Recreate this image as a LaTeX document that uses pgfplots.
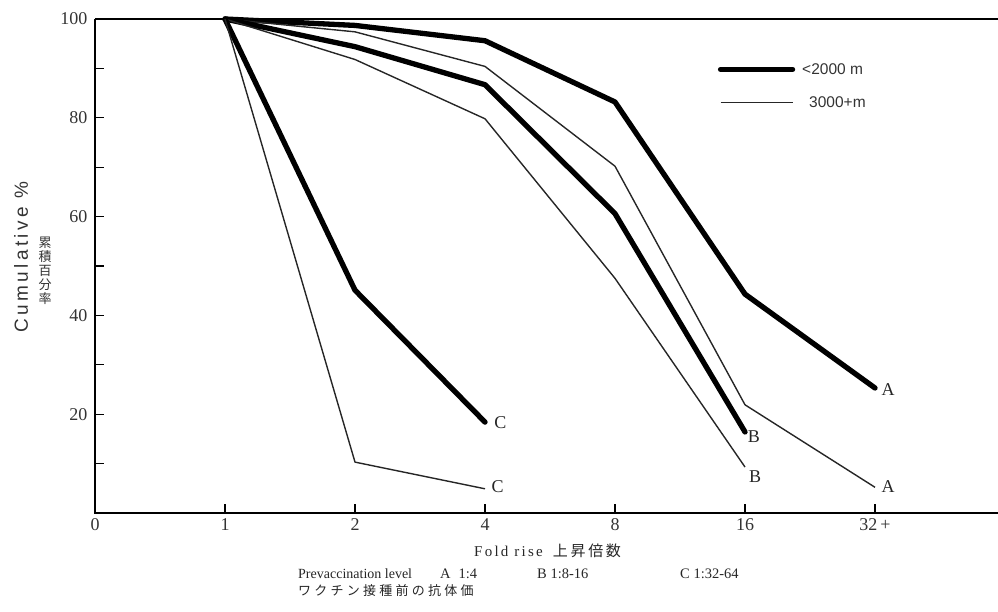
\documentclass[border=0pt]{standalone}
\usepackage{fontspec}
\setmainfont{Liberation Serif}
\newfontfamily\sansf{Liberation Sans}
\newfontfamily\jp{Noto Sans CJK JP}
\usepackage{pgfplots}
\pgfplotsset{compat=1.18}
\begin{document}
\begin{tikzpicture}
\path[use as bounding box] (0pt,0pt) rectangle (998pt,611pt);
\begin{axis}[
  at={(95pt,98pt)}, anchor=south west,
  scale only axis, width=903pt, height=494pt,
  xmin=0, xmax=6.946, ymin=0, ymax=100,
  clip=false,
  axis line style={draw=none},
  xtick pos=bottom, ytick pos=left,
  xtick={0,1,2,3,4,5,6},
  xticklabels={0,1,2,4,8,16,32\,+},
  ytick={20,40,60,80,100},
  minor ytick={10,30,50,70,90},
  tick align=inside,
  major tick length=9pt, minor tick length=9pt,
  tick style={black, line width=1.3pt},
  /pgf/number format/assume math mode=true,
  tick label style={font=\fontsize{18}{18}\selectfont, text=black!80},
  xticklabel style={yshift=-2pt},
  yticklabel style={xshift=-4pt},
  legend style={at={(axis cs:4.79,91.5)}, anchor=north west, draw=none, fill=none,
    font=\sansf\fontsize{15.5}{15.5}\selectfont, row sep=17pt, inner sep=0pt,
    text=black!80},
  legend cell align=left,
  legend image code/.code={\draw[#1] (0pt,0pt) -- (72pt,0pt);},
  thick line/.style={black, line width=5.3pt, line join=round, line cap=round},
  thin line/.style={black!85, line width=1.4pt, line join=round},
]
\draw[black, line width=1.6pt] (rel axis cs:0,1) -- (rel axis cs:0,0) -- (rel axis cs:1,0);
\draw[black, line width=1.6pt] (rel axis cs:0,1) -- (rel axis cs:1,1);

% A: prevaccination 1:4
\addplot[thick line] coordinates {(1,100)(2,98.7)(3,95.6)(4,83.2)(5,44.3)(6,25.3)};
\addlegendentry{\hspace{5pt}<2000 m}
\addplot[thin line] coordinates {(1,100)(2,97.4)(3,90.4)(4,70.2)(5,21.9)(6,5.2)};
\addlegendentry{\hspace{12pt}3000+m}
% B: 1:8-16
\addplot[thick line, forget plot] coordinates {(1,100)(2,94.4)(3,86.7)(4,60.6)(5,16.4)};
\addplot[thin line, forget plot] coordinates {(1,100)(2,91.8)(3,79.8)(4,47.5)(5,9.3)};
% C: 1:32-64
\addplot[thick line, forget plot] coordinates {(1,100)(2,45.1)(3,18.4)};
\addplot[thin line, forget plot] coordinates {(1,100)(2,10.3)(3,4.9)};

\begin{scope}[every node/.style={font=\fontsize{18}{18}\selectfont, text=black!85, anchor=west, inner sep=0pt}]
\node at (axis cs:6.05,24.9) {A};
\node at (axis cs:6.05,5.3) {A};
\node at (axis cs:5.02,15.4) {B};
\node at (axis cs:5.03,7.3) {B};
\node at (axis cs:3.07,18.2) {C};
\node at (axis cs:3.05,5.3) {C};
\end{scope}
\end{axis}

% axis titles and notes
\node[rotate=90, font=\sansf\fontsize{19}{19}\selectfont\addfontfeature{LetterSpace=18}, text=black!80, inner sep=0pt] at (21pt,354pt) {Cumulative \%};
\node[font=\jp\fontsize{13}{14}\selectfont, align=center, inner sep=0pt, text=black!80] at (45pt,340pt) {累\\積\\百\\分\\率};

\node[anchor=base west, inner sep=0pt, text=black!85, font=\fontsize{15}{15}\selectfont] at (474pt,55pt)
  {{\addfontfeature{LetterSpace=15}Fold\hspace{6pt}rise}\hspace{10pt}{\jp\fontsize{15}{15}\selectfont\addfontfeature{LetterSpace=18}上昇倍数}};
\node[anchor=base west, inner sep=0pt, text=black!85, font=\fontsize{14}{14}\selectfont] at (298pt,33pt) {Prevaccination level};
\node[anchor=base west, inner sep=0pt, text=black!85, font=\fontsize{14.5}{14.5}\selectfont] at (440pt,33pt) {A\hspace{8pt}1:4};
\node[anchor=base west, inner sep=0pt, text=black!85, font=\fontsize{14.5}{14.5}\selectfont] at (537pt,33pt) {B 1:8-16};
\node[anchor=base west, inner sep=0pt, text=black!85, font=\fontsize{14.5}{14.5}\selectfont] at (680pt,33pt) {C 1:32-64};
\node[anchor=base west, inner sep=0pt, text=black!85, font=\jp\fontsize{13}{13}\selectfont\addfontfeature{LetterSpace=25}] at (298pt,16pt) {ワクチン接種前の抗体価};
\end{tikzpicture}
\end{document}
